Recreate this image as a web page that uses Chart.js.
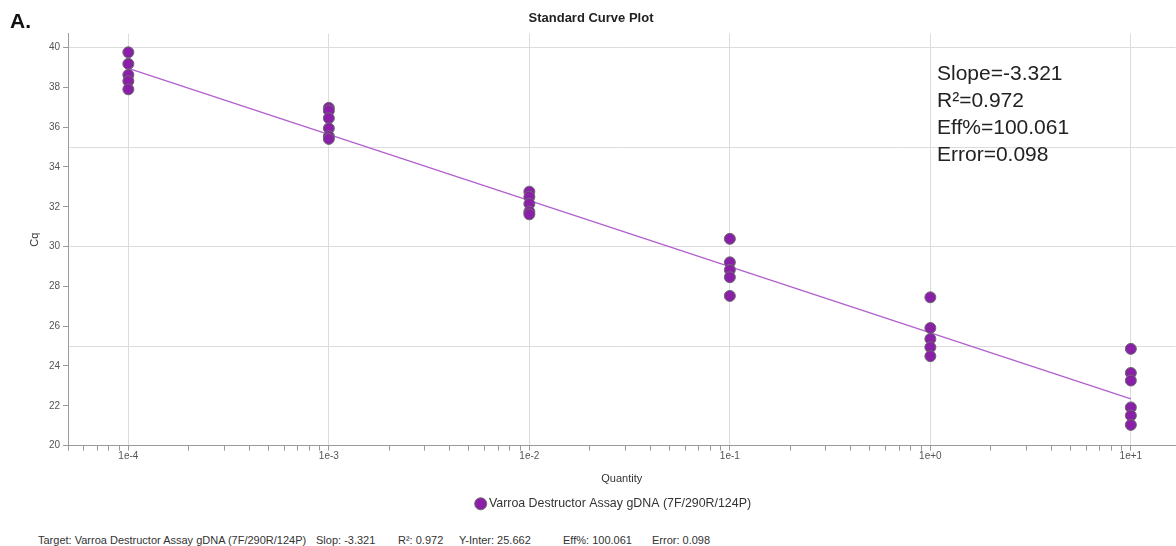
<!DOCTYPE html>
<html>
<head>
<meta charset="utf-8">
<title>Standard Curve Plot</title>
<script src="https://cdn.jsdelivr.net/npm/chart.js@4.4.1/dist/chart.umd.min.js"></script>
<style>
  body { margin: 0; background: #fff; font-family: "Liberation Sans", Arial, sans-serif; }
  #wrap { position: relative; width: 1176px; height: 546px; overflow: hidden; }
  #chartBox { position: absolute; left: 0; top: 0; width: 1182px; height: 520px; }
  #painel { position: absolute; left: 10px; top: 9px; font-size: 21px; font-weight: bold; color: #111; }
  #stats { position: absolute; left: 937px; top: 59px; font-size: 21px; line-height: 27px; color: #222; }
  #rodape { position: absolute; left: 0; top: 534px; width: 1176px; height: 13px; font-size: 11px; color: #333; }
  #rodape span { position: absolute; top: 0; white-space: nowrap; }
</style>
</head>
<body>
<div id="wrap">
  <div id="chartBox"><canvas id="grafico"></canvas></div>
  <div id="painel">A.</div>
  <div id="stats">Slope=-3.321<br>R²=0.972<br>Eff%=100.061<br>Error=0.098</div>
  <div id="rodape">
    <span style="left:38px">Target: Varroa Destructor Assay gDNA (7F/290R/124P)</span>
    <span style="left:316px">Slop: -3.321</span>
    <span style="left:398px">R²: 0.972</span>
    <span style="left:459px">Y-Inter: 25.662</span>
    <span style="left:563px">Eff%: 100.061</span>
    <span style="left:652px">Error: 0.098</span>
  </div>
</div>
<script>
// Nome da série
const serieNome = "Varroa Destructor Assay gDNA (7F/290R/124P)";

// Quantidades (eixo x, escala log)
const quantidades = [1e-4, 1e-3, 1e-2, 1e-1, 1e0, 1e1];

// Valores de Cq lidos para cada quantidade
const cqQ1 = [39.76, 39.18, 38.63, 38.31, 37.9];
const cqQ2 = [36.97, 36.83, 36.45, 35.94, 35.54, 35.41];
const cqQ3 = [32.76, 32.5, 32.15, 31.75, 31.62];
const cqQ4 = [30.39, 29.21, 28.83, 28.46, 27.52];
const cqQ5 = [27.45, 25.91, 25.36, 24.94, 24.49];
const cqQ6 = [24.86, 23.65, 23.27, 21.92, 21.51, 21.04];
const gruposCq = [cqQ1, cqQ2, cqQ3, cqQ4, cqQ5, cqQ6];

// Reta da curva padrão (extremos)
const retaX = [1e-4, 1e1];
const retaCq = [38.95, 22.35];

// Rótulos dos ticks
const rotulosX = ["1e-4", "1e-3", "1e-2", "1e-1", "1e+0", "1e+1"];
const ticksY = [20, 21, 22, 23, 24, 25, 26, 27, 28, 29, 30, 31, 32, 33, 34, 35, 36, 37, 38, 39, 40];

// Monta os pontos do gráfico
const pontos = [];
quantidades.forEach((q, i) => {
  gruposCq[i].forEach((cq) => pontos.push({ x: q, y: cq }));
});

// Ticks do eixo log: 1..9 x 10^n
const ticksX = [];
for (let d = -5; d <= 1; d++) {
  for (let m = 1; m <= 9; m++) {
    const v = m * Math.pow(10, d);
    if (v >= 5e-5 - 1e-12 && v <= 16.7) ticksX.push(v);
  }
}

function ehDecada(v) {
  const l = Math.log10(v);
  return Math.abs(l - Math.round(l)) < 1e-9;
}

const ctx = document.getElementById("grafico").getContext("2d");
new Chart(ctx, {
  type: "scatter",
  data: {
    datasets: [
      {
        type: "line",
        label: "reta",
        data: retaX.map((x, i) => ({ x: x, y: retaCq[i] })),
        borderColor: "#b25fd0",
        borderWidth: 1.3,
        pointRadius: 0,
        fill: false,
        order: 2,
      },
      {
        label: serieNome,
        data: pontos,
        backgroundColor: "#8a1fa8",
        borderColor: "#6a6a6a",
        borderWidth: 1,
        pointRadius: 5.5,
        order: 1,
      },
    ],
  },
  options: {
    responsive: true,
    maintainAspectRatio: false,
    animation: false,
    layout: { padding: 0 },
    scales: {
      x: {
        type: "logarithmic",
        position: "bottom",
        min: 5e-5,
        max: 16.7,
        afterBuildTicks: (scale) => {
          scale.ticks = ticksX.map((v) => ({ value: v, major: ehDecada(v) }));
        },
        afterFit: (scale) => {
          scale.height = 42;
        },
        ticks: {
          autoSkip: false,
          maxRotation: 0,
          padding: 0,
          font: { size: 10 },
          color: "#555",
          callback: function (value) {
            if (!ehDecada(value)) return "";
            const idx = Math.round(Math.log10(value)) + 4;
            return rotulosX[idx] || "";
          },
        },
        grid: {
          color: (c) => (c.tick && ehDecada(c.tick.value) ? "#dcdcdc" : "rgba(0,0,0,0)"),
          tickColor: "#9a9a9a",
          tickLength: 5,
        },
        border: { color: "#9a9a9a" },
        title: {
          display: true,
          text: "Quantity",
          font: { size: 11 },
          color: "#333",
          padding: { top: 4, bottom: 2 },
        },
      },
      y: {
        min: 20,
        max: 40.7,
        afterBuildTicks: (scale) => {
          scale.ticks = ticksY.map((v) => ({ value: v }));
        },
        afterFit: (scale) => {
          scale.width = 68;
        },
        ticks: {
          padding: 3,
          font: { size: 10 },
          color: "#555",
          callback: (v) => (v % 2 === 0 ? v : ""),
        },
        grid: {
          color: (c) =>
            c.tick && c.tick.value % 5 === 0 && c.tick.value !== 20 ? "#dcdcdc" : "rgba(0,0,0,0)",
          tickColor: (c) => (c.tick && c.tick.value % 2 === 0 ? "#9a9a9a" : "rgba(0,0,0,0)"),
          tickLength: 5,
        },
        border: { color: "#9a9a9a" },
        title: {
          display: true,
          text: "Cq",
          font: { size: 11 },
          color: "#333",
          padding: { top: 28, bottom: 0 },
        },
      },
    },
    plugins: {
      title: {
        display: true,
        text: "Standard Curve Plot",
        font: { size: 13, weight: "bold" },
        color: "#222",
        padding: { top: 11, bottom: 7 },
      },
      legend: {
        position: "bottom",
        fullSize: false,
        labels: {
          usePointStyle: true,
          boxWidth: 4,
          boxHeight: 8.5,
          font: { size: 12.4 },
          color: "#333",
          filter: (item) => item.datasetIndex === 1,
          // espaços no fim deslocam a legenda um pouco para a esquerda
          generateLabels: (chart) =>
            Chart.defaults.plugins.legend.labels.generateLabels(chart).map((l) => {
              l.text = l.text + "    ";
              return l;
            }),
        },
      },
      tooltip: { enabled: false },
    },
  },
});
</script>
</body>
</html>
